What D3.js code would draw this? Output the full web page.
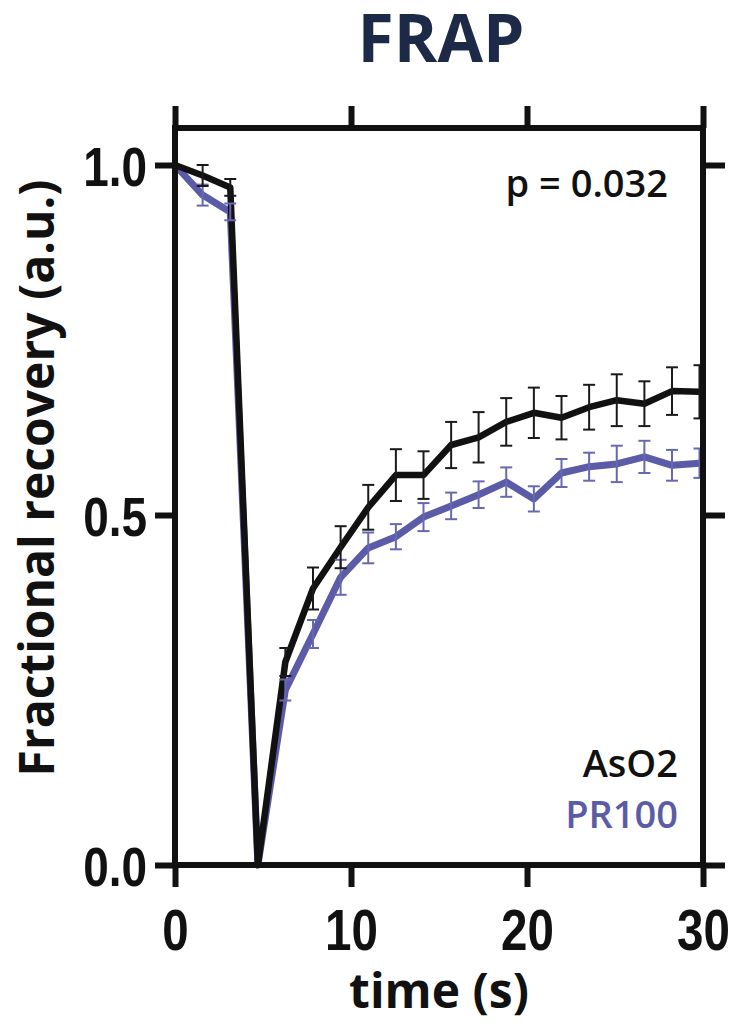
<!DOCTYPE html>
<html lang="en">
<head>
<meta charset="UTF-8">
<title>FRAP</title>
<style>
body{
	margin:0;
	background:#fff;
}
svg text{
	font-family:"Open Sans","Noto Sans",sans-serif;
}
.tick text{
	font-family:"Liberation Sans",Arial,sans-serif;
	font-weight:bold;
	fill:#111;
}
.tick line{
	stroke:#111;
	stroke-width:6px;
}
</style>
</head>
<body>
<script src="https://cdn.jsdelivr.net/npm/d3@7"></script>
<script>
// sampling times (s)
var times = [0, 1.57, 3.14, 4.71, 6.27, 7.84, 9.41, 10.98, 12.55, 14.12, 15.69, 17.25, 18.82, 20.39, 21.96, 23.53, 25.1, 26.67, 28.24, 29.8];
// AsO2 (black)
var aso2 = [1.0, 0.985, 0.968, 0, 0.29, 0.395, 0.454, 0.511, 0.557, 0.557, 0.6, 0.611, 0.633, 0.646, 0.639, 0.654, 0.664, 0.659, 0.677, 0.676];
var aso2Err = [0, 0.015, 0.012, 0, 0.02, 0.03, 0.03, 0.032, 0.037, 0.034, 0.033, 0.036, 0.034, 0.036, 0.031, 0.032, 0.037, 0.032, 0.034, 0.038];
// PR100 (blue)
var pr100 = [1.0, 0.957, 0.933, 0, 0.25, 0.33, 0.411, 0.453, 0.469, 0.497, 0.513, 0.529, 0.547, 0.523, 0.56, 0.569, 0.573, 0.583, 0.571, 0.574];
var pr100Err = [0, 0.015, 0.012, 0, 0.015, 0.02, 0.025, 0.022, 0.018, 0.02, 0.019, 0.019, 0.021, 0.018, 0.02, 0.02, 0.026, 0.023, 0.022, 0.021];

var xTicks = [0, 10, 20, 30];
var yTicks = [0, 0.5, 1.0];
var seriesNames = ["AsO2", "PR100"];

var W = 735, H = 1024;
var pLeft = 175, pRight = 703, pTop = 128, pBottom = 865;
var black = "#111", blue = "#5b5ba8", blueErr = "#6868b2";
var narrow = 0.82; // condensed look for tick numbers

var x = d3.scaleLinear().domain([0, 30]).range([pLeft, pRight]);
var y = d3.scaleLinear().domain([0, 1]).range([pBottom, 165]);

var svg = d3.select("body").append("svg").attr("width", W).attr("height", H);

// title
svg.append("text").attr("x", 441).attr("y", 62).attr("text-anchor", "middle")
	.attr("font-size", 66).attr("font-weight", 700).attr("fill", "#1c2a48").text("FRAP");

// series
function series(vals, errs, color, errColor, width){
	var pts = times.map(function(t, i){ return {t:t, v:vals[i], e:errs[i]}; });
	var line = d3.line().x(function(d){ return x(d.t); }).y(function(d){ return y(d.v); });
	svg.append("path").datum(pts).attr("d", line).attr("fill", "none")
		.attr("stroke", color).attr("stroke-width", width).attr("stroke-linejoin", "round");
	return {pts:pts, errColor:errColor};
}
function errorBars(s){
	var g = svg.append("g").attr("stroke", s.errColor).attr("stroke-width", 2);
	s.pts.filter(function(d){ return d.e > 0; }).forEach(function(d){
		var cx = x(d.t), y1 = y(d.v + d.e), y2 = y(d.v - d.e);
		g.append("line").attr("x1", cx).attr("x2", cx).attr("y1", y1).attr("y2", y2);
		g.append("line").attr("x1", cx - 6).attr("x2", cx + 6).attr("y1", y1).attr("y2", y1);
		g.append("line").attr("x1", cx - 6).attr("x2", cx + 6).attr("y1", y2).attr("y2", y2);
	});
}
var sBlue = series(pr100, pr100Err, blue, blueErr, 7);
var sBlack = series(aso2, aso2Err, black, "#1a1a1a", 6.5);
errorBars(sBlue);
errorBars(sBlack);

// frame
svg.append("rect").attr("x", pLeft).attr("y", pTop).attr("width", pRight - pLeft).attr("height", pBottom - pTop)
	.attr("fill", "none").attr("stroke", black).attr("stroke-width", 6);

// axes
var gB = svg.append("g").attr("transform", "translate(0," + pBottom + ")")
	.call(d3.axisBottom(x).tickValues(xTicks).tickSize(22).tickFormat(d3.format("d")));
gB.selectAll("text").attr("x", 0).attr("y", 85).attr("dy", 0).attr("font-size", 58)
	.attr("transform", "scale(" + narrow + ",1)");
var gT = svg.append("g").attr("transform", "translate(0," + pTop + ")")
	.call(d3.axisTop(x).tickValues(xTicks).tickSize(22).tickFormat(""));
var gL = svg.append("g").attr("transform", "translate(" + pLeft + ",0)")
	.call(d3.axisLeft(y).tickValues(yTicks).tickSize(20).tickFormat(d3.format(".1f")));
gL.selectAll("text").attr("x", -28 / narrow).attr("dy", "0.36em").attr("font-size", 56)
	.attr("transform", "scale(" + narrow + ",1)");
var gR = svg.append("g").attr("transform", "translate(" + pRight + ",0)")
	.call(d3.axisRight(y).tickValues(yTicks).tickSize(22).tickFormat(""));
[gB, gT, gL, gR].forEach(function(g){ g.select(".domain").remove(); });

// axis titles
svg.append("text").attr("transform", "translate(54,478) rotate(-90)").attr("text-anchor", "middle")
	.attr("font-size", 48).attr("font-weight", 700).attr("fill", black).text("Fractional recovery (a.u.)");
svg.append("text").attr("x", 439).attr("y", 1008).attr("text-anchor", "middle")
	.attr("font-size", 48).attr("font-weight", 700).attr("fill", black).text("time (s)");

// annotations
svg.append("text").attr("x", 668).attr("y", 197).attr("text-anchor", "end")
	.attr("font-size", 38).attr("font-weight", 600).attr("fill", black).text("p = 0.032");
svg.append("text").attr("x", 678).attr("y", 777).attr("text-anchor", "end")
	.attr("font-size", 38).attr("font-weight", 600).attr("fill", black).text(seriesNames[0]);
svg.append("text").attr("x", 678).attr("y", 828).attr("text-anchor", "end")
	.attr("font-size", 38).attr("font-weight", 600).attr("fill", blue).text(seriesNames[1]);
</script>
</body>
</html>
